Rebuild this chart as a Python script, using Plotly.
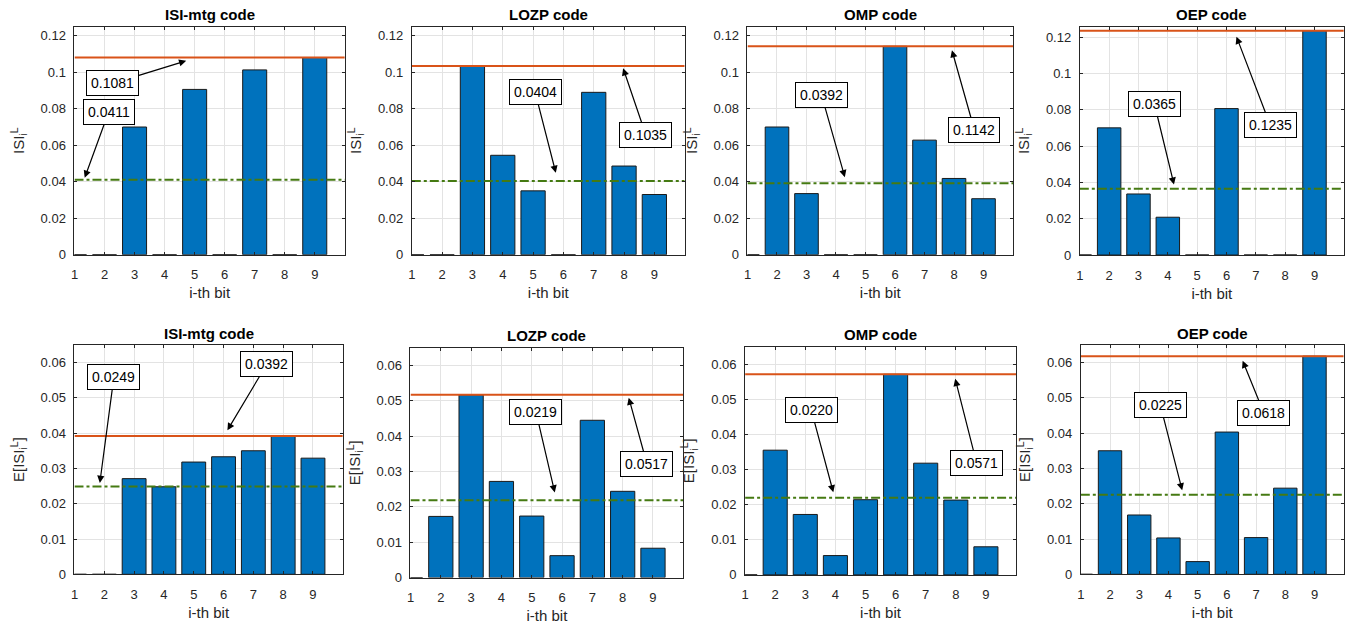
import plotly.graph_objects as go

# Bit positions shared by every panel
bits = [1, 2, 3, 4, 5, 6, 7, 8, 9]

# Panel titles
codes = ["ISI-mtg code", "LOZP code", "OMP code", "OEP code"]

# Per-bit ISI^L_i values (top row)
isi_mtg = [0, 0, 0.0700, 0, 0.0906, 0, 0.1013, 0, 0.1081]
isi_lozp = [0, 0, 0.1035, 0.0545, 0.0350, 0, 0.0890, 0.0486, 0.0330]
isi_omp = [0, 0.0700, 0.0335, 0, 0, 0.1142, 0.0628, 0.0418, 0.0307]
isi_oep = [0, 0.0700, 0.0336, 0.0208, 0, 0.0806, 0, 0, 0.1235]

# Per-bit expected ISI values E[ISI^L_i] (bottom row)
e_isi_mtg = [0, 0, 0.0271, 0.0248, 0.0318, 0.0333, 0.0350, 0.0392, 0.0329]
e_isi_lozp = [0, 0.0173, 0.0517, 0.0272, 0.0174, 0.0062, 0.0445, 0.0244, 0.0083]
e_isi_omp = [0, 0.0355, 0.0172, 0.0055, 0.0214, 0.0571, 0.0318, 0.0213, 0.0080]
e_isi_oep = [0, 0.0350, 0.0168, 0.0103, 0.0036, 0.0403, 0.0104, 0.0244, 0.0618]

x_ticks = [1, 2, 3, 4, 5, 6, 7, 8, 9]
top_y_ticks = [0, 0.02, 0.04, 0.06, 0.08, 0.1, 0.12]
bottom_y_ticks = [0, 0.01, 0.02, 0.03, 0.04, 0.05, 0.06]

W, H = 1353, 629
BAR = "#0072BD"
MAXC = "#D95319"
MEANC = "#457a12"
AXC = "#262626"
FONT = "Liberation Sans, Arial, Helvetica, sans-serif"

# Axes placement (pixel boxes: left, right, top, bottom)
boxes = [
    (70.7, 341.8, 27, 258), (409, 682.7, 27, 258),
    (745.7, 1012, 27, 258), (1079, 1343.8, 27, 258.3),
    (70.7, 339.8, 349.3, 581.7), (407.7, 681.3, 352.3, 585),
    (743.3, 1015, 351, 582.3), (1080, 1343.7, 349.3, 581.7),
]
y_tops = [0.125, 0.125, 0.125, 0.1257, 0.065, 0.065, 0.065, 0.065]

# Text-box centre (ax, ay) and arrow tip (x, y) for the mean and max callouts
mean_callouts = [
    (2.14, 0.0784, 1.34, 0.0422), (5.07, 0.0890, 5.75, 0.0449),
    (3.51, 0.0875, 4.30, 0.0425), (3.54, 0.0834, 4.21, 0.0388),
    (2.32, 0.0558, 1.85, 0.0259), (5.14, 0.0469, 5.76, 0.0241),
    (3.20, 0.0469, 3.93, 0.0235), (3.72, 0.0480, 4.47, 0.0238),
]
max_callouts = [
    (2.28, 0.0939, 4.72, 0.1063), (8.72, 0.0656, 7.97, 0.1022),
    (8.69, 0.0685, 7.93, 0.1121), (7.49, 0.0716, 6.34, 0.1202),
    (7.45, 0.0595, 6.13, 0.0408), (8.80, 0.0322, 8.20, 0.0509),
    (8.69, 0.0319, 7.98, 0.0558), (7.27, 0.0456, 6.54, 0.0605),
]

series = [isi_mtg, isi_lozp, isi_omp, isi_oep,
          e_isi_mtg, e_isi_lozp, e_isi_omp, e_isi_oep]

fig = go.Figure()
layout = dict(
    width=W, height=H, margin=dict(l=0, r=0, t=0, b=0),
    paper_bgcolor="white", plot_bgcolor="white", showlegend=False,
    font=dict(family=FONT, size=13, color=AXC),
    annotations=[],
)

for i, vals in enumerate(series):
    n = i + 1
    xa = "x" if n == 1 else f"x{n}"
    ya = "y" if n == 1 else f"y{n}"
    left, right, top, bottom = boxes[i]
    top_row = i < 4
    mean_v = sum(vals) / len(vals)
    max_v = max(vals)
    yt = top_y_ticks if top_row else bottom_y_ticks

    fig.add_trace(go.Bar(
        x=bits, y=vals, xaxis=xa, yaxis=ya, width=0.8,
        marker=dict(color=BAR, line=dict(color="#1a1a1a", width=1)),
        hoverinfo="x+y",
    ))
    fig.add_trace(go.Scatter(
        x=[1, 10], y=[max_v, max_v], xaxis=xa, yaxis=ya, mode="lines",
        line=dict(color=MAXC, width=2), hoverinfo="skip",
    ))
    fig.add_trace(go.Scatter(
        x=[1, 10], y=[mean_v, mean_v], xaxis=xa, yaxis=ya, mode="lines",
        line=dict(color=MEANC, width=2, dash="dashdot"), hoverinfo="skip",
    ))

    layout["xaxis" if n == 1 else f"xaxis{n}"] = dict(
        domain=[left / W, right / W], anchor=ya, range=[1, 10],
        tickvals=x_ticks, ticks="inside", ticklen=3, tickcolor=AXC,
        ticklabelstandoff=8,
        showgrid=True, gridcolor="#e3e3e3", gridwidth=1,
        showline=True, linecolor=AXC, linewidth=1, mirror="ticks",
        zeroline=False, tickfont=dict(size=13, color=AXC),
        title=dict(text="i-th bit", font=dict(size=15, color=AXC), standoff=6),
    )
    layout["yaxis" if n == 1 else f"yaxis{n}"] = dict(
        domain=[1 - bottom / H, 1 - top / H], anchor=xa,
        range=[0, y_tops[i]],
        tickvals=yt, ticktext=[f"{v:g}" for v in yt],
        ticks="inside", ticklen=3, tickcolor=AXC,
        ticklabelstandoff=5,
        showgrid=True, gridcolor="#e3e3e3", gridwidth=1,
        showline=True, linecolor=AXC, linewidth=1, mirror="ticks",
        zeroline=False, tickfont=dict(size=13, color=AXC),
        title=dict(
            text="ISI<sub>i</sub><sup>L</sup>" if top_row else "E[ISI<sub>i</sub><sup>L</sup>]",
            font=dict(size=15, color=AXC), standoff=12,
        ),
    )

    # Panel title
    layout["annotations"].append(dict(
        text=f"<b>{codes[i % 4]}</b>", xref="paper", yref="paper",
        x=(left + right) / 2 / W, y=1 - (top - 12) / H,
        xanchor="center", yanchor="middle", showarrow=False,
        font=dict(size=15, color="black"),
    ))

    for (tx, ty, hx, hy), v in ((mean_callouts[i], mean_v), (max_callouts[i], max_v)):
        layout["annotations"].append(dict(
            text=f"{v:.4f}", xref=xa, yref=ya, x=hx, y=hy,
            axref=xa, ayref=ya, ax=tx, ay=ty,
            showarrow=True, arrowhead=2, arrowsize=1.2, arrowwidth=1.2,
            arrowcolor="black", standoff=0, startstandoff=0,
            bordercolor="black", borderwidth=1, borderpad=4,
            bgcolor="white", font=dict(size=14, color="black"),
        ))

fig.update_layout(**layout)
fig.write_html("out.html")
